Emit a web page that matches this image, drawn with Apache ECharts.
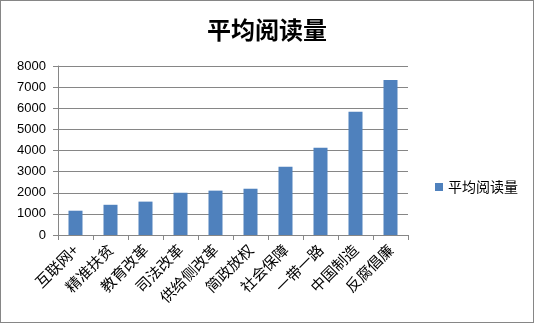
<!DOCTYPE html>
<html><head><meta charset="utf-8">
<script src="https://cdn.jsdelivr.net/npm/echarts@6/dist/echarts.min.js"></script>
<style>html,body{margin:0;padding:0;background:#fff}#c{width:534px;height:323px}</style>
</head><body><div id="c"></div>
<script>
const categories = ['互联网+','精准扶贫','教育改革','司法改革','供给侧改革','简政放权','社会保障','一带一路','中国制造','反腐倡廉'];
const values = [1150,1430,1580,2000,2100,2190,3230,4130,5830,7340];
const seriesName = '平均阅读量';
const titleText = '平均阅读量';

const chart = echarts.init(document.getElementById('c'));
chart.setOption({
  backgroundColor: '#fff',
  animation: false,
  title: { text: titleText, left: 'center', top: 13,
    textStyle: { fontFamily: 'Noto Sans CJK SC', fontSize: 24, fontWeight: 'bold', color: '#000' } },
  grid: { left: 58, right: 126, top: 66, bottom: 88, containLabel: false },
  legend: { orient: 'vertical', left: 430, top: 175, itemWidth: 8, itemHeight: 8, icon: 'rect', itemGap: 5,
    textStyle: { fontFamily: 'Noto Sans CJK SC', fontSize: 14, color: '#000' }, data: [seriesName] },
  xAxis: { type: 'category', data: categories,
    axisLine: { lineStyle: { color: '#868686' } },
    axisTick: { show: true, alignWithLabel: false, length: 5, lineStyle: { color: '#868686' } },
    axisLabel: { rotate: 45, interval: 0, fontFamily: 'Noto Sans CJK SC', fontSize: 15, color: '#000', margin: 12 } },
  yAxis: { type: 'value', min: 0, max: 8000, interval: 1000,
    axisLine: { show: true, lineStyle: { color: '#868686' } },
    axisTick: { show: true, length: 5, lineStyle: { color: '#868686' } },
    splitLine: { lineStyle: { color: '#868686' } },
    axisLabel: { fontFamily: 'Liberation Sans', fontSize: 13, color: '#000', margin: 12, formatter: v => String(v) } },
  series: [{ name: seriesName, type: 'bar', data: values, barWidth: 14,
    itemStyle: { color: '#4f81bd' } }]
});
</script>
<div style="position:absolute;left:0;top:0;width:532px;height:321px;border:1px solid #868686;pointer-events:none"></div>
</body></html>
